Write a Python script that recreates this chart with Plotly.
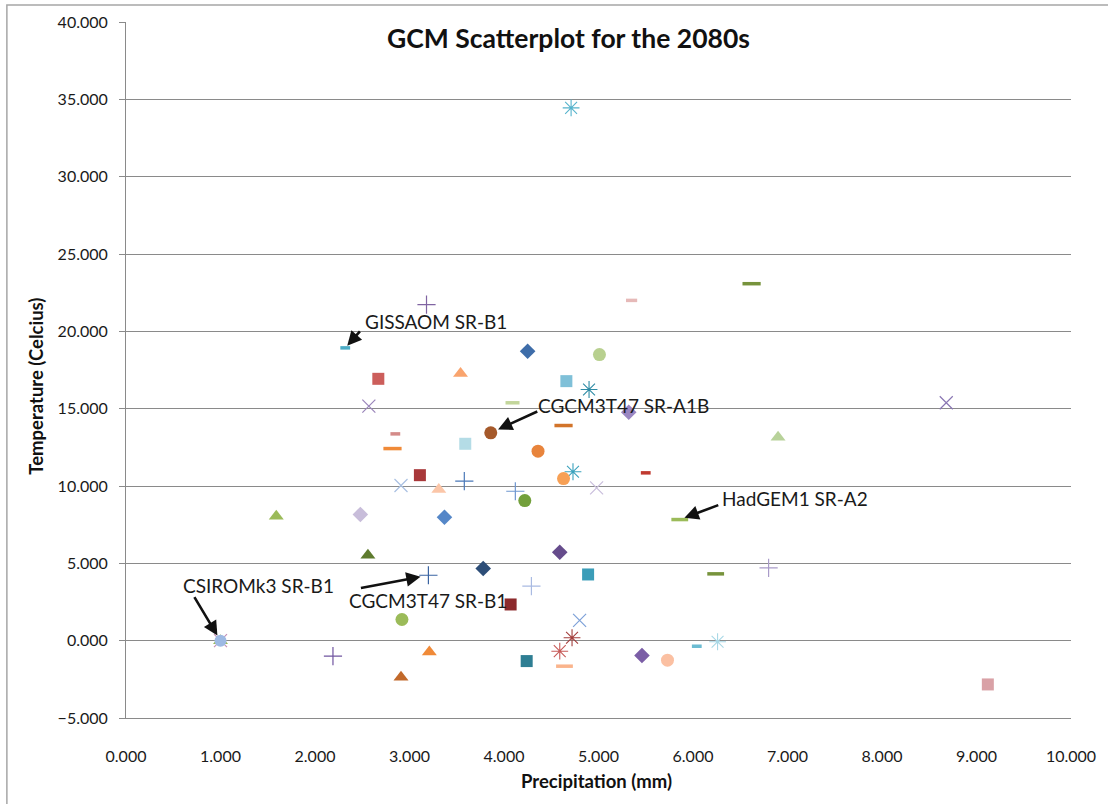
import plotly.graph_objects as go

# GCM projections for the 2080s: change in precipitation (mm) vs temperature (Celcius)
precip_mm = [4.71, 6.62, 5.35, 3.18, 2.32, 4.25, 5.01, 2.67, 3.54, 4.66,
             4.90, 4.09, 2.57, 8.68, 5.32, 4.63, 3.86, 2.85, 2.82, 3.59,
             4.36, 3.11, 6.90, 5.50, 4.73, 4.63, 2.91, 3.31, 3.58, 4.12,
             4.22, 4.98, 2.48, 3.37, 5.86, 1.59, 2.56, 4.59, 3.78, 3.20,
             4.89, 4.29, 4.07, 6.24, 6.80, 2.92, 4.80, 4.72, 4.59, 6.26,
             6.04, 3.21, 2.19, 4.24, 4.64, 5.46, 5.73, 2.91, 9.12, 1.00,
             1.00, 1.00]
temp_c = [34.45, 23.08, 22.00, 21.73, 18.93, 18.71, 18.50, 16.93, 17.27, 16.78,
          16.24, 15.38, 15.16, 15.38, 14.77, 13.91, 13.44, 13.37, 12.42, 12.73,
          12.25, 10.70, 13.16, 10.85, 10.92, 10.48, 10.03, 9.77, 10.31, 9.66,
          9.06, 9.88, 8.16, 7.98, 7.83, 8.05, 5.53, 5.72, 4.67, 4.23,
          4.28, 3.52, 2.34, 4.32, 4.71, 1.37, 1.31, 0.19, -0.68, -0.07,
          -0.36, -0.74, -1.00, -1.32, -1.65, -0.96, -1.26, -2.36, -2.83, 0.00,
          0.00, 0.00]

# Named model runs that get a callout
callouts = {
    4: "GISSAOM SR-B1",
    16: "CGCM3T47 SR-A1B",
    34: "HadGEM1 SR-A2",
    61: "CSIROMk3 SR-B1",
    39: "CGCM3T47 SR-B1",
}

x_ticks = [0, 1, 2, 3, 4, 5, 6, 7, 8, 9, 10]
y_ticks = [-5, 0, 5, 10, 15, 20, 25, 30, 35, 40]

# Marker style per series: (kind, colour, size)
styles = [
    ("A", "#55B3CC", 14), ("M", "#77933C", 13), ("M", "#E6B9B8", 8), ("P", "#8064A2", 13),
    ("M", "#4BACC6", 7), ("D", "#3E6DA9", 12), ("C", "#B8D08F", 13), ("S", "#CC5E5B", 12),
    ("T", "#F9A46E", 13), ("S", "#7FC0D8", 12), ("A", "#2E8BA5", 14), ("M", "#C3D69B", 10),
    ("X", "#9A85BA", 13), ("X", "#8A76B3", 13), ("D", "#9A86C2", 12), ("M", "#D2742A", 13),
    ("C", "#A5592A", 13), ("M", "#D48B89", 7), ("M", "#F08A38", 13), ("S", "#B4DCE6", 12),
    ("C", "#E8843C", 13), ("S", "#A8383A", 12), ("T", "#B8D29A", 13), ("M", "#C03A30", 7),
    ("A", "#3AA2BD", 14), ("C", "#F7A055", 13), ("X", "#A9C0E2", 13), ("T", "#FBC6A8", 13),
    ("P", "#4A78B8", 13), ("P", "#6E96D0", 13), ("C", "#73A03C", 13), ("X", "#C9BEDC", 13),
    ("D", "#C8BDDA", 12), ("D", "#5587C8", 12), ("M", "#9BBB59", 12), ("T", "#9BBB59", 13),
    ("T", "#5E7B2E", 13), ("D", "#664C8C", 12), ("D", "#2D4E78", 12), ("P", "#3A64A2", 13),
    ("S", "#3B9DB8", 12), ("P", "#A9BAE2", 13), ("S", "#8C2A2C", 12), ("M", "#77933C", 12),
    ("P", "#A99BC9", 13), ("C", "#9BBB59", 13), ("X", "#7EA1D8", 13), ("A", "#A33E3C", 14),
    ("A", "#C65A58", 14), ("A", "#A8D8E6", 14), ("M", "#6CBCD2", 7), ("T", "#F08A38", 13),
    ("P", "#7055A0", 13), ("S", "#2E7E93", 12), ("M", "#FAB48C", 12), ("D", "#7B5EA6", 12),
    ("C", "#FBC0A2", 13), ("T", "#C2692A", 13), ("S", "#D9A1A6", 12), ("T", "#9BBB59", 13),
    ("X", "#C58FB5", 13), ("C", "#9DB9E3", 12),
]

SYMBOLS = {
    "D": "diamond", "S": "square", "T": "triangle-up", "C": "circle",
    "X": "x-thin-open", "A": "asterisk-open", "P": "cross-thin-open", "M": "line-ew-open",
}
LINE_WIDTH = {"X": 1.2, "A": 1.1, "P": 1.2, "M": 3.5}

# Plot-area geometry (pixels)
W, H = 1108, 804
L, R, T, B = 126, 1078, 22, 718


def px(xpix):
    return (xpix - L) / (R - L)


def py(ypix):
    return (B - ypix) / (B - T)


FONT = "Lato, 'Open Sans', sans-serif"
TEXT = "#1A1A1A"
GRID = "#8A8A8A"

fig = go.Figure()

for i, (x, y) in enumerate(zip(precip_mm, temp_c)):
    kind, colour, size = styles[i]
    marker = dict(symbol=SYMBOLS[kind], size=size, color=colour)
    if kind in LINE_WIDTH:
        marker["line"] = dict(color=colour, width=LINE_WIDTH[kind])
    else:
        marker["line"] = dict(width=0)
    fig.add_trace(go.Scatter(
        x=[x], y=[y], mode="markers", marker=marker,
        name=callouts.get(i, f"run {i + 1}"), showlegend=False, cliponaxis=False,
    ))

# Callout arrows: (tail offset dx, dy in pixels, standoff) and text position (left, middle)
arrow_geom = {
    4: (16, -18, 3, 365, 321),
    16: (48, -22, 8, 539, 405),
    34: (40, -15, 5, 724, 499),
    61: (-27, -45, 6, 181, 585),
    39: (-69, 13, 8, 349, 600),
}
for idx, label in callouts.items():
    dx, dy, stand, tx, ty = arrow_geom[idx]
    fig.add_annotation(
        x=precip_mm[idx], y=temp_c[idx], xref="x", yref="y",
        ax=dx, ay=dy, text="", showarrow=True,
        arrowhead=2, arrowsize=1.1, arrowwidth=2.6, arrowcolor="#111111",
        standoff=stand,
    )
    fig.add_annotation(
        x=px(tx), y=py(ty), xref="paper", yref="paper",
        text=label, showarrow=False, xanchor="left", yanchor="middle",
        font=dict(family=FONT, size=19, color=TEXT),
    )

# Title and axis titles
fig.add_annotation(x=px(572), y=py(38), xref="paper", yref="paper",
                   text="<b>GCM Scatterplot for the 2080s</b>", showarrow=False,
                   xanchor="center", yanchor="middle",
                   font=dict(family=FONT, size=26.5, color="#111111"))
fig.add_annotation(x=px(600), y=py(781), xref="paper", yref="paper",
                   text="<b>Precipitation (mm)</b>", showarrow=False,
                   xanchor="center", yanchor="middle",
                   font=dict(family=FONT, size=18.5, color="#111111"))
fig.add_annotation(x=px(35), y=py(386), xref="paper", yref="paper",
                   text="<b>Temperature (Celcius)</b>", showarrow=False, textangle=-90,
                   xanchor="center", yanchor="middle",
                   font=dict(family=FONT, size=18.5, color="#111111"))

# Chart frame
fig.add_shape(type="rect", xref="paper", yref="paper",
              x0=px(6), x1=px(1130), y0=py(830), y1=py(5),
              line=dict(color="#A6A6A6", width=1.5), fillcolor="rgba(0,0,0,0)", layer="below")

fig.update_layout(
    width=W, height=H,
    margin=dict(l=L, r=W - R, t=T, b=H - B),
    paper_bgcolor="white", plot_bgcolor="white",
    font=dict(family=FONT, size=16, color=TEXT),
    xaxis=dict(
        range=[0, 10], tickvals=x_ticks, tickformat=".3f",
        showgrid=False, zeroline=False, showline=True, linecolor=GRID, linewidth=1,
        ticks="", ticklabelstandoff=24,
        tickfont=dict(family=FONT, size=16, color=TEXT),
    ),
    yaxis=dict(
        range=[-5, 40], tickvals=y_ticks, tickformat=".3f",
        showgrid=True, gridcolor=GRID, gridwidth=1, zeroline=False,
        showline=True, linecolor=GRID, linewidth=1,
        ticks="outside", ticklen=6, tickcolor=GRID, ticklabelstandoff=8,
        tickfont=dict(family=FONT, size=16, color=TEXT),
    ),
)

fig.write_html("out.html")
